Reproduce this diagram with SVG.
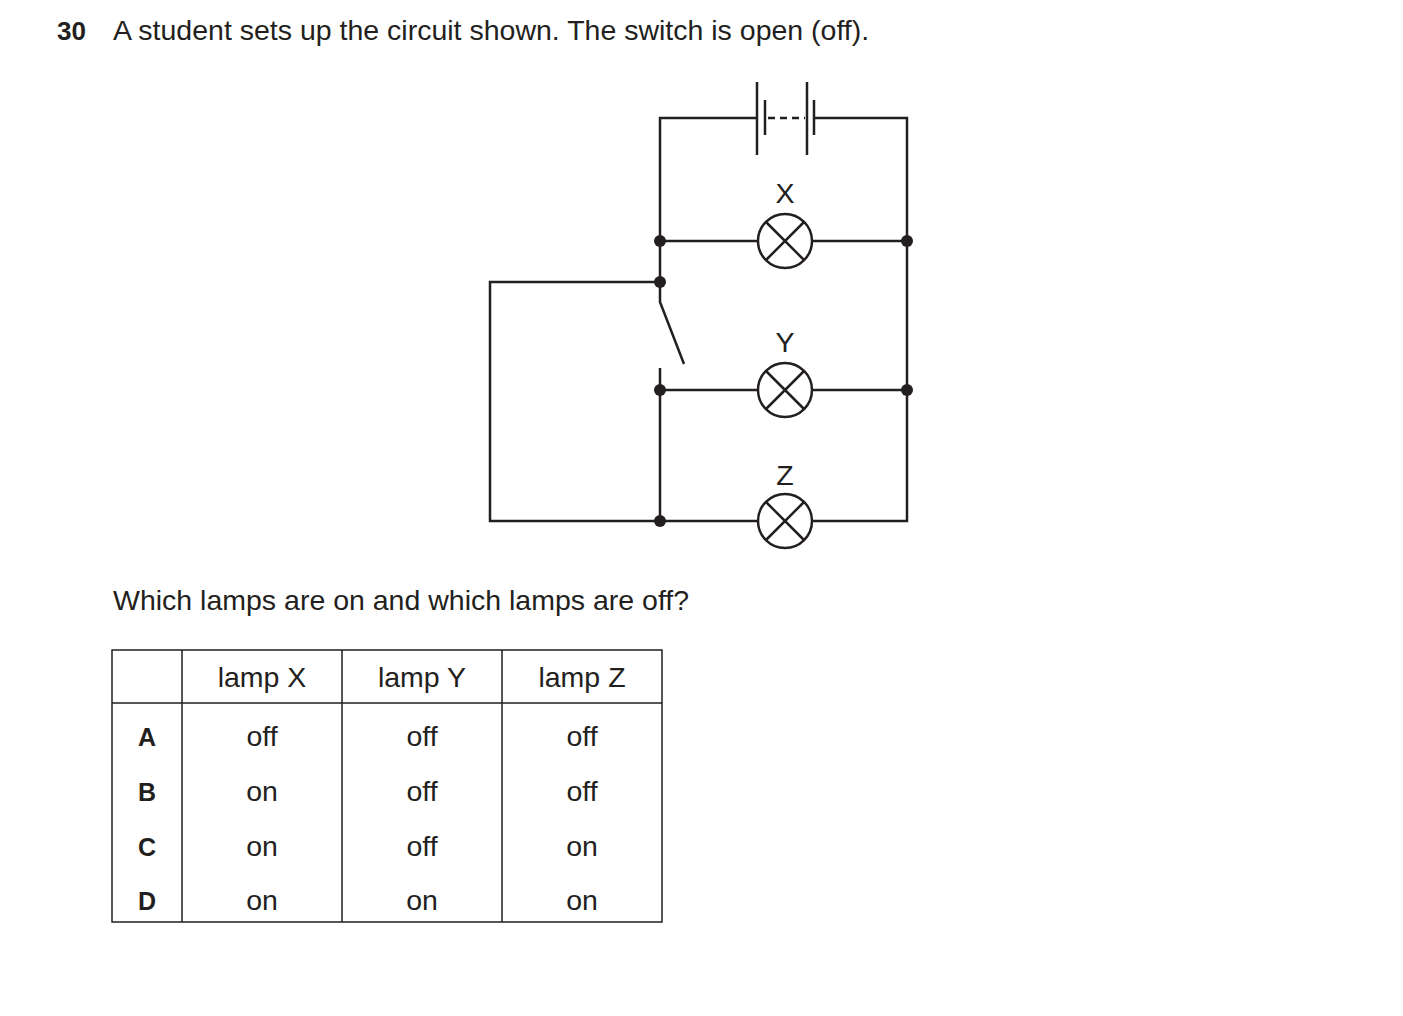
<svg xmlns="http://www.w3.org/2000/svg" width="1403" height="1016" viewBox="0 0 1403 1016">
<style>
.w{fill:none;stroke:#231f20;stroke-width:2.5}
.d{fill:#231f20}
text{font-family:"Liberation Sans",Arial,sans-serif;fill:#231f20}
.t{font-size:28.5px}
.c{font-size:28.5px;text-anchor:middle}
.b{font-size:25px;font-weight:bold;text-anchor:middle}
.g{fill:none;stroke:#231f20;stroke-width:1.5}
</style>
<rect width="1403" height="1016" fill="#fff"/>
<text x="57" y="40" font-size="26" font-weight="bold">30</text>
<text x="113" y="40" class="t">A student sets up the circuit shown. The switch is open (off).</text>
<g id="connectors">
<path class="w" d="M757 118H660V302L684 364M660 368V521H490V282H660M814 118H907V521H812M758 521H660M660 241H758M812 241H907M660 390H758M812 390H907"/>
</g>
<g id="battery">
<path class="w" d="M757 82V155M765 100V135M807 82V155M814 100V135"/>
<path class="w" d="M768 118H805" stroke-dasharray="7,5"/>
</g>
<g id="lampX"><circle class="w" cx="785" cy="241" r="27"/><path class="w" d="M766 222L804 260M804 222L766 260"/><text x="785" y="203" class="c">X</text></g>
<g id="lampY"><circle class="w" cx="785" cy="390" r="27"/><path class="w" d="M766 371L804 409M804 371L766 409"/><text x="785" y="352" class="c">Y</text></g>
<g id="lampZ"><circle class="w" cx="785" cy="521" r="27"/><path class="w" d="M766 502L804 540M804 502L766 540"/><text x="785" y="485" class="c">Z</text></g>
<g id="junctions">
<circle class="d" cx="660" cy="241" r="6"/><circle class="d" cx="907" cy="241" r="6"/>
<circle class="d" cx="660" cy="282" r="6"/><circle class="d" cx="660" cy="390" r="6"/>
<circle class="d" cx="907" cy="390" r="6"/><circle class="d" cx="660" cy="521" r="6"/>
</g>
<text x="113" y="610" class="t">Which lamps are on and which lamps are off?</text>
<g id="table">
<rect class="g" x="112" y="650" width="550" height="272"/>
<path class="g" d="M182 650V922M342 650V922M502 650V922M112 703H662"/>
<text x="262" y="687" class="c">lamp X</text><text x="422" y="687" class="c">lamp Y</text><text x="582" y="687" class="c">lamp Z</text>
<text x="147" y="746" class="b">A</text><text x="262" y="746" class="c">off</text><text x="422" y="746" class="c">off</text><text x="582" y="746" class="c">off</text>
<text x="147" y="801" class="b">B</text><text x="262" y="801" class="c">on</text><text x="422" y="801" class="c">off</text><text x="582" y="801" class="c">off</text>
<text x="147" y="856" class="b">C</text><text x="262" y="856" class="c">on</text><text x="422" y="856" class="c">off</text><text x="582" y="856" class="c">on</text>
<text x="147" y="910" class="b">D</text><text x="262" y="910" class="c">on</text><text x="422" y="910" class="c">on</text><text x="582" y="910" class="c">on</text>
</g>
</svg>
